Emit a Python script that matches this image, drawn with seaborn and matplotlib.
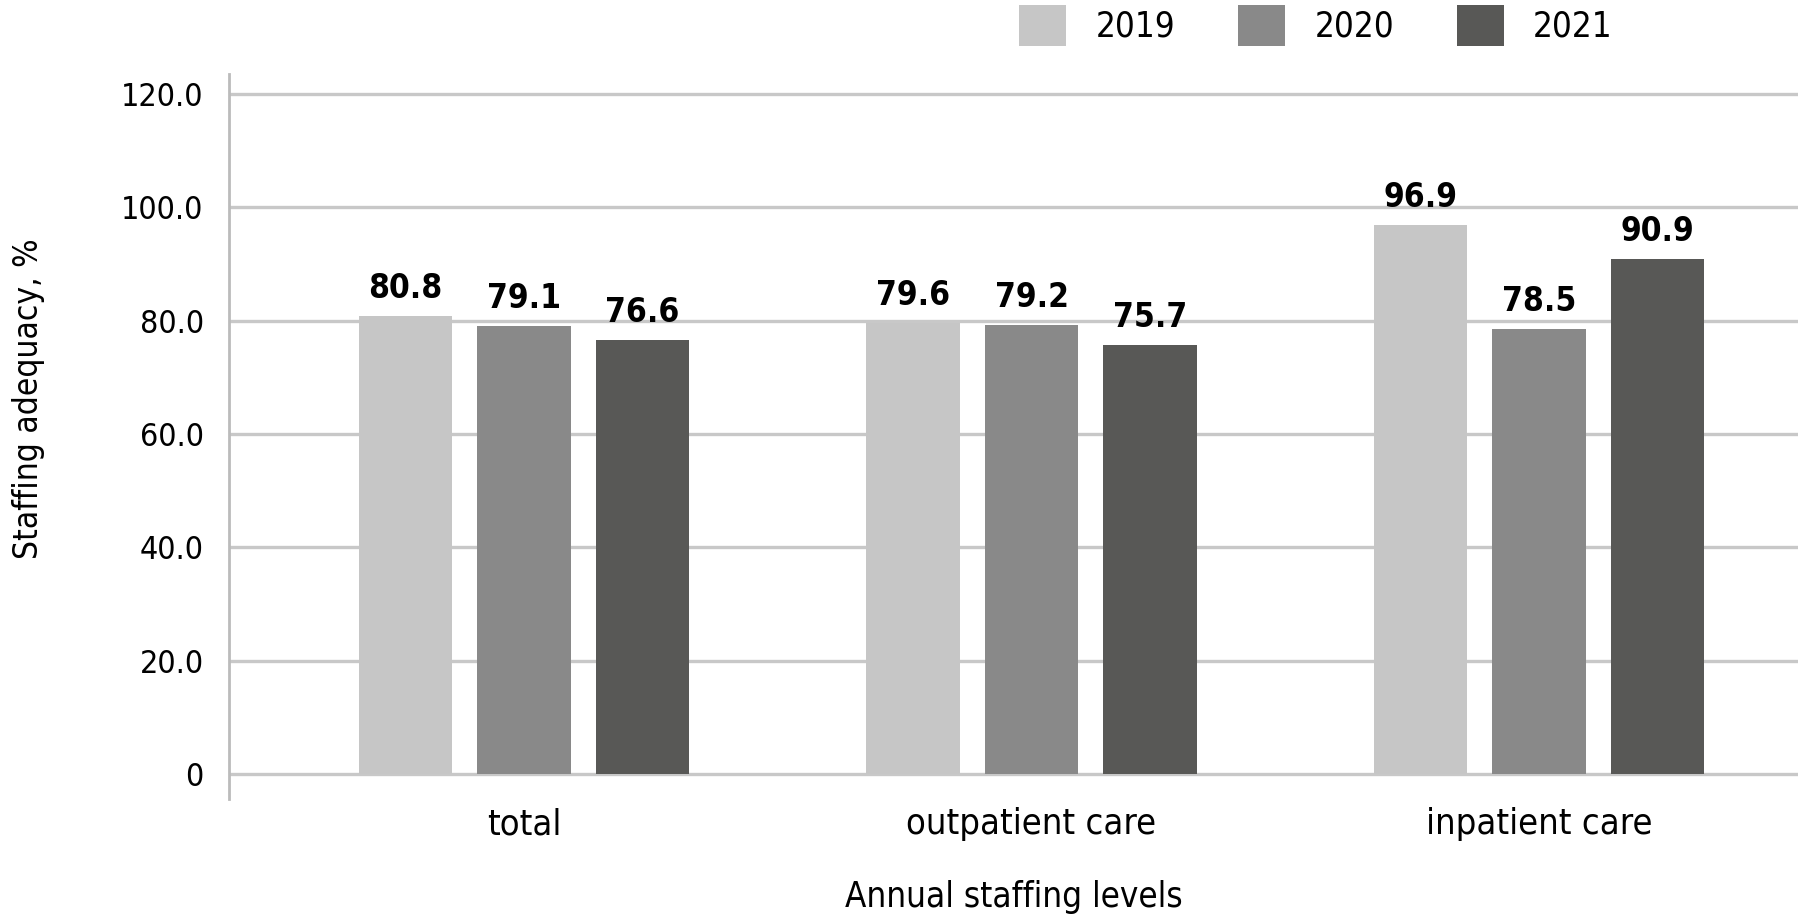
import pandas as pd
import matplotlib.pyplot as plt
import seaborn as sns

categories = ['total', 'outpatient care', 'inpatient care']
years = ['2019', '2020', '2021']
values_2019 = [80.8, 79.6, 96.9]
values_2020 = [79.1, 79.2, 78.5]
values_2021 = [76.6, 75.7, 90.9]
colors = ['#c6c6c6', '#898989', '#585856']

df = pd.DataFrame({
    'level': categories * 3,
    'year': [y for y in years for _ in categories],
    'value': values_2019 + values_2020 + values_2021,
})

sns.set_style('white')
plt.rcParams['font.family'] = ['DejaVu Sans']
plt.rcParams['font.stretch'] = 'condensed'
plt.rcParams['text.color'] = 'black'
plt.rcParams['axes.labelcolor'] = 'black'
plt.rcParams['xtick.color'] = 'black'
plt.rcParams['ytick.color'] = 'black'
grid_col = '#c8c8c8'

fig = plt.figure(figsize=(17.98, 9.23), dpi=100)
ax = fig.add_axes([0.1274, 0.1343, 0.8726, 0.785])

sns.barplot(data=df, x='level', y='value', hue='year', palette=colors,
            width=0.70, gap=0.21, saturation=1, linewidth=0, ax=ax, zorder=3)

# value labels
for cont in ax.containers:
    ax.bar_label(cont, fmt='%.1f', padding=8, fontsize=24, fontweight='bold', color='black')

ax.set_ylim(-4.4, 123.4)
ax.set_xlim(-0.581, 2.51)
ax.set_yticks([0, 20, 40, 60, 80, 100, 120])
ax.set_yticklabels(['0', '20.0', '40.0', '60.0', '80.0', '100.0', '120.0'])
ax.yaxis.grid(True, color=grid_col, lw=2.4, zorder=0)
ax.xaxis.grid(False)

for s in ['top', 'right', 'bottom']:
    ax.spines[s].set_visible(False)
ax.spines['left'].set_color('#bbbbbb')
ax.spines['left'].set_linewidth(2)

ax.tick_params(axis='y', length=8.3, width=2.4, color=grid_col, labelcolor='black', pad=10, labelsize=23)
ax.tick_params(axis='x', length=0, pad=6, labelsize=26, labelcolor='black')

ax.set_xlabel('Annual staffing levels', fontsize=25, labelpad=28)
ax.set_ylabel('Staffing adequacy, %', fontsize=24)
ax.yaxis.set_label_coords(-0.117, 0.552)

handles, labels = ax.get_legend_handles_labels()
ax.legend(handles, labels, loc='upper left', bbox_to_anchor=(0.566, 0.997),
          bbox_transform=fig.transFigure, ncol=3, frameon=False, fontsize=25,
          handlelength=1.35, handleheight=1.45, handletextpad=0.85,
          columnspacing=1.8, borderaxespad=0, borderpad=0.05)

fig.savefig('out.png', dpi=100)
